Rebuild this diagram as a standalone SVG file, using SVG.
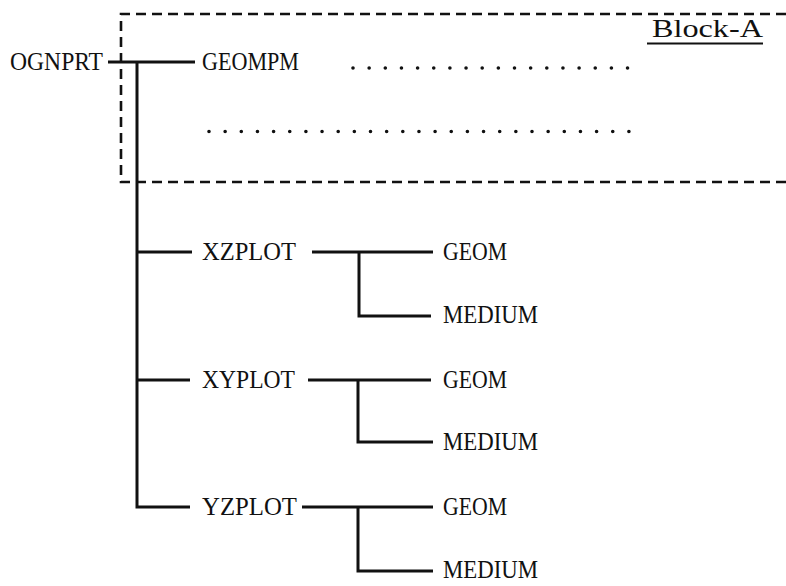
<svg xmlns="http://www.w3.org/2000/svg" width="786" height="586" viewBox="0 0 786 586">
<style>
text{font-family:"Liberation Serif","Times New Roman",serif;font-size:25px;fill:#111}
.c{fill:none;stroke:#111;stroke-width:3}
.d{fill:none;stroke:#111;stroke-width:2.6;stroke-dasharray:10 6}
.dots{fill:none;stroke:#111;stroke-width:3.6;stroke-linecap:round;stroke-dasharray:0 16.15}
</style>
<rect width="786" height="586" fill="#fff"/>
<g id="block-a">
<path class="d" d="M786 14 H121 V182 H786"/>
<text x="652" y="37" textLength="111" lengthAdjust="spacingAndGlyphs">Block-A</text>
<line x1="647" y1="43.5" x2="763" y2="43.5" stroke="#111" stroke-width="2"/>
</g>
<g id="connectors">
<path class="c" d="M108 62 H195"/>
<path class="c" d="M137 62 V507 H190"/>
<path class="c" d="M137 252 H192"/>
<path class="c" d="M137 380 H190"/>
<path class="c" d="M312 252 H433"/>
<path class="c" d="M359 252 V316 H431"/>
<path class="c" d="M308 380 H431"/>
<path class="c" d="M358 380 V442 H433"/>
<path class="c" d="M302 507 H433"/>
<path class="c" d="M358 507 V571 H433"/>
</g>
<g id="ognprt"><text x="10" y="70" textLength="93" lengthAdjust="spacingAndGlyphs">OGNPRT</text></g>
<g id="geompm"><text x="202" y="70" textLength="97" lengthAdjust="spacingAndGlyphs">GEOMPM</text></g>
<g id="dots1"><line class="dots" x1="353" y1="68" x2="630" y2="68"/></g>
<g id="dots2"><line class="dots" x1="209" y1="131.5" x2="630" y2="131.5"/></g>
<g id="xzplot"><text x="202" y="260" textLength="94" lengthAdjust="spacingAndGlyphs">XZPLOT</text></g>
<g id="xz-geom"><text x="443" y="260" textLength="64" lengthAdjust="spacingAndGlyphs">GEOM</text></g>
<g id="xz-medium"><text x="443" y="323" textLength="95" lengthAdjust="spacingAndGlyphs">MEDIUM</text></g>
<g id="xyplot"><text x="202" y="388" textLength="93" lengthAdjust="spacingAndGlyphs">XYPLOT</text></g>
<g id="xy-geom"><text x="443" y="388" textLength="64" lengthAdjust="spacingAndGlyphs">GEOM</text></g>
<g id="xy-medium"><text x="443" y="450" textLength="95" lengthAdjust="spacingAndGlyphs">MEDIUM</text></g>
<g id="yzplot"><text x="202" y="515" textLength="95" lengthAdjust="spacingAndGlyphs">YZPLOT</text></g>
<g id="yz-geom"><text x="443" y="515" textLength="64" lengthAdjust="spacingAndGlyphs">GEOM</text></g>
<g id="yz-medium"><text x="443" y="578" textLength="95" lengthAdjust="spacingAndGlyphs">MEDIUM</text></g>
</svg>
